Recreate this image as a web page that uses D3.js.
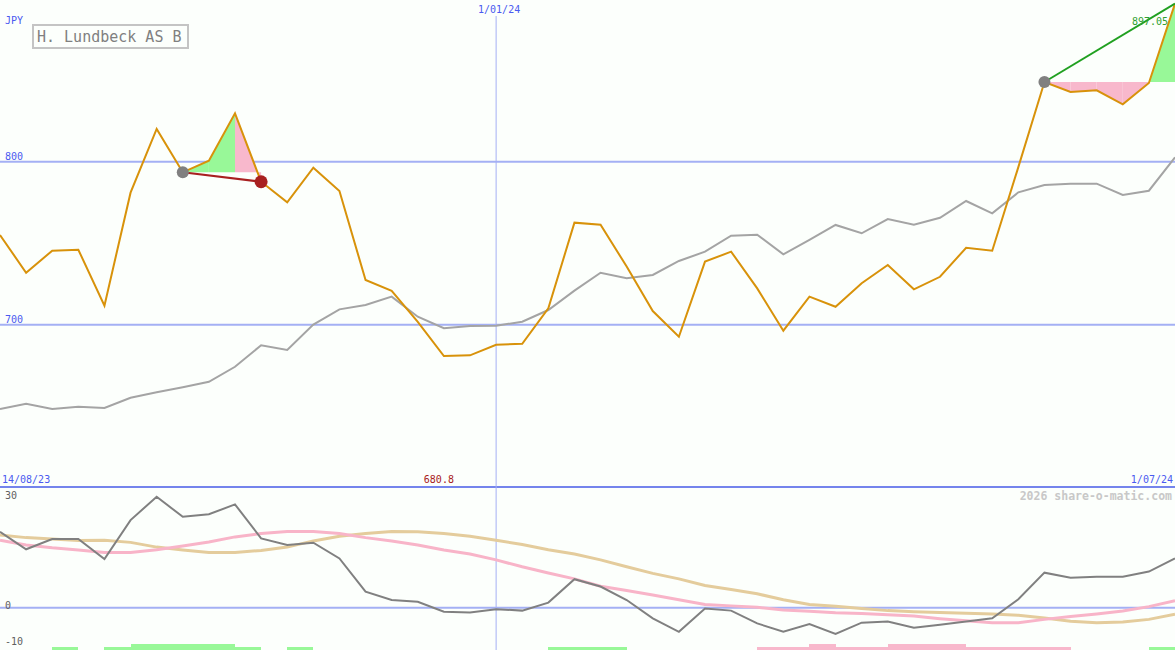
<!DOCTYPE html>
<html>
<head>
<meta charset="utf-8">
<script src="https://cdn.jsdelivr.net/npm/d3@7/dist/d3.min.js"></script>
<style>
  html, body { margin: 0; padding: 0; background: #fcfffc; }
  svg { display: block; }
  text { font-family: "DejaVu Sans Mono", "Liberation Mono", monospace; }
</style>
</head>
<body>
<svg id="chart" width="1175" height="650"></svg>
<script>
// ---------------- data ----------------
const dates = ["2023-08-21","2023-08-28","2023-09-04","2023-09-11","2023-09-18","2023-09-25",
  "2023-10-02","2023-10-09","2023-10-16","2023-10-23","2023-10-30","2023-11-06","2023-11-13",
  "2023-11-20","2023-11-27","2023-12-04","2023-12-11","2023-12-18","2023-12-25","2024-01-01",
  "2024-01-08","2024-01-15","2024-01-22","2024-01-29","2024-02-05","2024-02-12","2024-02-19",
  "2024-02-26","2024-03-04","2024-03-11","2024-03-18","2024-03-25","2024-04-01","2024-04-08",
  "2024-04-15","2024-04-22","2024-04-29","2024-05-06","2024-05-13","2024-05-20","2024-05-27",
  "2024-06-03","2024-06-10","2024-06-17","2024-06-24","2024-07-01"];

// weekly close (JPY)
const closePrice = [755.0,731.9,745.4,746.0,711.7,781.0,820.1,793.5,800.6,829.7,
  787.7,775.1,796.3,782.0,727.4,720.8,701.7,680.8,681.2,687.7,
  688.3,710.1,762.6,761.3,735.7,708.4,692.6,738.7,744.8,722.3,
  696.3,717.2,711.0,725.4,736.6,721.7,729.4,747.2,745.4,796.7,
  848.9,842.8,843.8,835.2,848.3,897.05];

// moving average / comparison line (grey)
const avgLine = [648.3,651.5,648.3,649.7,648.9,655.2,658.5,661.6,665.0,674.2,
  687.4,684.5,700.1,709.4,712.1,717.2,704.9,697.8,699.2,699.4,
  701.8,709.0,720.9,731.9,728.5,730.5,739.1,744.8,754.6,755.2,
  743.2,752.0,761.2,756.1,764.8,761.3,765.6,775.9,768.3,781.2,
  785.7,786.5,786.5,779.6,782.2,802.7];

// lower panel indicators
const oscMain = [20.8,16.0,18.8,18.8,13.3,24.0,30.4,24.9,25.6,28.3,
  19.0,17.2,17.8,13.5,4.4,2.1,1.6,-1.1,-1.3,-0.4,
  -0.8,1.4,7.8,5.8,2.1,-2.9,-6.6,-0.2,-0.8,-4.3,
  -6.6,-4.5,-7.2,-4.1,-3.8,-5.5,-4.7,-3.8,-2.9,2.3,
  9.6,8.2,8.5,8.5,9.9,13.5];
const oscPink = [18.5,17.2,16.4,15.8,15.1,15.1,15.9,16.9,18.0,19.4,
  20.3,20.9,20.9,20.3,19.2,18.3,17.2,15.8,14.7,13.1,
  11.2,9.5,7.9,5.9,4.7,3.5,2.2,0.9,0.5,0.1,
  -0.6,-1.0,-1.4,-1.6,-1.9,-2.3,-3.0,-3.6,-4.1,-4.1,
  -3.2,-2.4,-1.7,-0.9,0.3,1.9];
const oscTan = [19.9,19.2,18.8,18.4,18.5,17.9,16.6,15.8,15.1,15.1,
  15.7,16.6,18.3,19.6,20.3,20.9,20.8,20.3,19.6,18.5,
  17.3,15.9,14.7,13.1,11.2,9.4,7.9,6.1,5.0,3.8,
  2.2,0.9,0.4,-0.2,-0.8,-1.1,-1.3,-1.5,-1.7,-2.1,
  -2.8,-3.7,-4.1,-3.9,-3.2,-1.8];
// signal strength for the week starting at each date
const signal = [0,0,1,0,1,2,2,2,2,1,
  0,1,0,0,0,0,0,0,0,0,
  0,1,1,1,0,0,0,0,0,-1,
  -1,-2,-1,-1,-2,-2,-2,-1,-1,-1,
  -1,0,0,0,1,0];

const priceTicks = [700, 800];
const oscTicks = [30, 0, -10];
const oscGrid = [0];
const markerDate = "2024-01-01";
const trades = [{entry: 7, exit: 10, closed: true}, {entry: 40, exit: 45, closed: false}];
const title = "H. Lundbeck AS B";
const currency = "JPY";
const startLabel = "14/08/23", midLabel = "1/01/24", endLabel = "1/07/24";
const credit = "2026 share-o-matic.com";

// ---------------- drawing ----------------
const W = 1175, H = 650;
const parse = d3.timeParse("%Y-%m-%d");
const dts = dates.map(parse);
const svg = d3.select("#chart");
svg.append("rect").attr("width", W).attr("height", H).attr("fill", "#fcfffc");

const x = d3.scaleTime().domain(d3.extent(dts)).range([0, W]);
const yTop = d3.scaleLinear().domain([700, 800]).range([324.7, 161.7]);
const yBot = d3.scaleLinear().domain([0, 30]).range([607.7, 498.2]);
const yBar = d3.scaleLinear().domain([0, 2]).range([650, 643.7]);

const blueText = "#4a5af0", gridBlue = "#a4b0f4", sepBlue = "#7484ec";

// grid lines top
svg.append("g").selectAll("line").data(priceTicks).join("line")
  .attr("x1", 0).attr("x2", W).attr("y1", d => yTop(d)).attr("y2", d => yTop(d))
  .attr("stroke", gridBlue).attr("stroke-width", 2);
svg.append("g").selectAll("text").data(priceTicks).join("text")
  .attr("x", 5).attr("y", d => yTop(d) - 2).attr("font-size", 10).attr("fill", blueText)
  .text(d => d);

// bottom grid
svg.append("g").selectAll("line").data(oscGrid).join("line")
  .attr("x1", 0).attr("x2", W).attr("y1", d => yBot(d)).attr("y2", d => yBot(d))
  .attr("stroke", gridBlue).attr("stroke-width", 2);
svg.append("g").selectAll("text").data(oscTicks).join("text")
  .attr("x", 5).attr("y", d => yBot(d) + 1).attr("font-size", 10).attr("fill", "#606060")
  .text(d => d === -10 ? "\u221210".replace("\u2212", "-") : d);

// separator
svg.append("line").attr("x1", 0).attr("x2", W).attr("y1", 487).attr("y2", 487)
  .attr("stroke", sepBlue).attr("stroke-width", 2);

// vertical date marker
const xm = x(parse(markerDate));
svg.append("line").attr("x1", xm).attr("x2", xm).attr("y1", 16).attr("y2", H)
  .attr("stroke", gridBlue).attr("stroke-width", 1);

// signal bars
const barData = signal.map((v, i) => ({v, i})).filter(d => d.v !== 0 && d.i < dts.length - 1);
svg.append("g").selectAll("rect").data(barData).join("rect")
  .attr("x", d => x(dts[d.i])).attr("width", d => x(dts[d.i + 1]) - x(dts[d.i]))
  .attr("y", d => yBar(Math.abs(d.v))).attr("height", d => yBar(0) - yBar(Math.abs(d.v)))
  .attr("fill", d => d.v > 0 ? "#98f898" : "#f8b8cc")
  .attr("shape-rendering", "crispEdges");

// trade fills
trades.forEach(t => {
  const base = closePrice[t.entry];
  let runMax = base;
  for (let i = t.entry; i < t.exit; i++) {
    const up = closePrice[i + 1] > runMax;
    runMax = Math.max(runMax, closePrice[i + 1]);
    const seg = [i, i + 1];
    const area = d3.area()
      .x(j => x(dts[j])).y0(yTop(base)).y1(j => yTop(closePrice[j]));
    svg.append("path").attr("d", area(seg)).attr("fill", up ? "#98f898" : "#f8b8cc");
  }
});

// grey average line
const lineTop = d3.line().x((d, i) => x(dts[i])).y(d => yTop(d));
svg.append("path").attr("d", lineTop(avgLine)).attr("fill", "none")
  .attr("stroke", "#a4a4a4").attr("stroke-width", 2);

// price line
svg.append("path").attr("d", lineTop(closePrice)).attr("fill", "none")
  .attr("stroke", "#d8920a").attr("stroke-width", 2).attr("stroke-linejoin", "miter");

// trade lines & dots
trades.forEach(t => {
  const col = t.closed ? "#a82020" : "#20a020";
  svg.append("line")
    .attr("x1", x(dts[t.entry])).attr("y1", yTop(closePrice[t.entry]))
    .attr("x2", x(dts[t.exit])).attr("y2", yTop(closePrice[t.exit]))
    .attr("stroke", col).attr("stroke-width", 2);
  svg.append("circle").attr("cx", x(dts[t.entry])).attr("cy", yTop(closePrice[t.entry]))
    .attr("r", 6).attr("fill", "#808080");
  if (t.closed) {
    svg.append("circle").attr("cx", x(dts[t.exit])).attr("cy", yTop(closePrice[t.exit]))
      .attr("r", 6.5).attr("fill", "#a82020");
  }
});

// lower indicator lines
const lineBot = d3.line().x((d, i) => x(dts[i])).y(d => yBot(d));
svg.append("path").attr("d", lineBot(oscTan)).attr("fill", "none")
  .attr("stroke", "#e4cc9c").attr("stroke-width", 3);
svg.append("path").attr("d", lineBot(oscPink)).attr("fill", "none")
  .attr("stroke", "#f8b4c8").attr("stroke-width", 3);
svg.append("path").attr("d", lineBot(oscMain)).attr("fill", "none")
  .attr("stroke", "#808080").attr("stroke-width", 2);

// labels
svg.append("text").attr("x", 5).attr("y", 24).attr("font-size", 10).attr("fill", blueText).text(currency);
svg.append("rect").attr("x", 33).attr("y", 25).attr("width", 155).attr("height", 23)
  .attr("fill", "none").attr("stroke", "#c4c4c4").attr("stroke-width", 2);
svg.append("text").attr("x", 37).attr("y", 42).attr("font-size", 15).attr("fill", "#808080")
  .text(title);

svg.append("text").attr("x", xm + 3).attr("y", 13).attr("text-anchor", "middle")
  .attr("font-size", 10).attr("fill", blueText).text(midLabel);
svg.append("text").attr("x", 2).attr("y", 483).attr("font-size", 10).attr("fill", blueText).text(startLabel);
svg.append("text").attr("x", W - 2).attr("y", 483).attr("text-anchor", "end")
  .attr("font-size", 10).attr("fill", blueText).text(endLabel);

// min label
const minV = d3.min(closePrice), minI = closePrice.indexOf(minV);
svg.append("text").attr("x", x(dts[minI]) - 5).attr("y", 483).attr("text-anchor", "middle")
  .attr("font-size", 10).attr("fill", "#a82020").text(minV.toFixed(1));

// last value label
const lastV = closePrice[closePrice.length - 1];
svg.append("text").attr("x", W - 7).attr("y", 25).attr("text-anchor", "end")
  .attr("font-size", 10).attr("fill", "#30a030").text(lastV.toFixed(2));

svg.append("text").attr("x", W - 3).attr("y", 500).attr("text-anchor", "end")
  .attr("font-size", 11.5).attr("font-weight", "bold").attr("fill", "#c8c8c8").text(credit);
</script>
</body>
</html>
